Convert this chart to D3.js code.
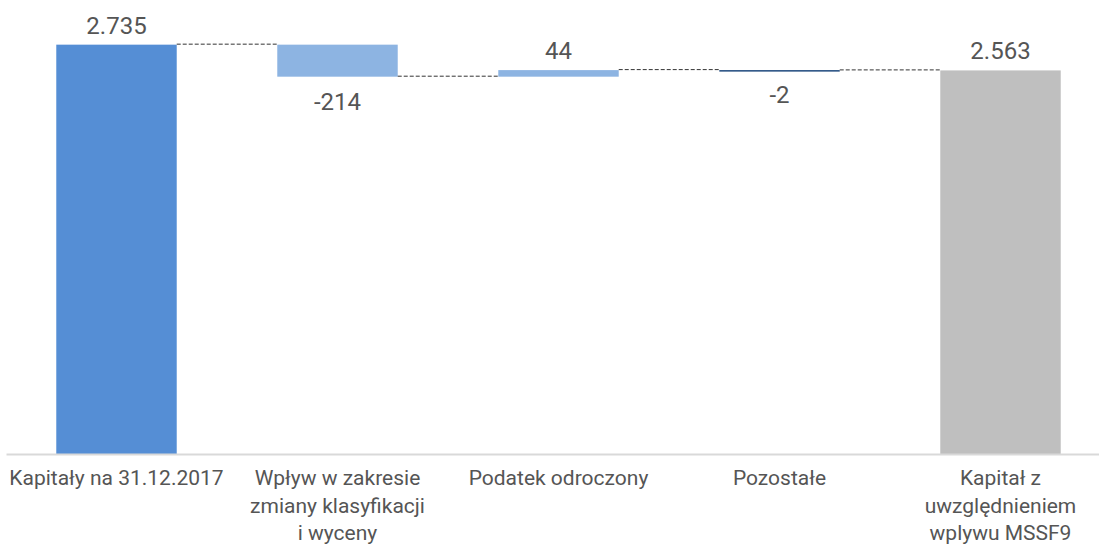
<!DOCTYPE html>
<html>
<head>
<meta charset="utf-8">
<script src="https://cdn.jsdelivr.net/npm/d3@7"></script>
<style>
    html, body { margin: 0; padding: 0; background: #fff; }
    .chart { width: 1099px; height: 546px; }
    text { font-family: Roboto, "Noto Sans", sans-serif; fill: #555; }
</style>
</head>
<body>
<div class="chart"></div>
<script>
(function() {
    'use strict';

    // DATA *************************************************************
    var categories = ['Kapitały na 31.12.2017', 'Wpływ w zakresie zmiany klasyfikacji i wyceny',
                      'Podatek odroczony', 'Pozostałe', 'Kapitał z uwzględnieniem wplywu MSSF9'];
    // tick labels, broken into lines as in the picture
    var tickLines = [
        ['Kapitały na 31.12.2017'],
        ['Wpływ w zakresie', 'zmiany klasyfikacji', 'i wyceny'],
        ['Podatek odroczony'],
        ['Pozostałe'],
        ['Kapitał z', 'uwzględnieniem', 'wplywu MSSF9']
    ];
    var values = [2735, -214, 44, -2, 2563];
    var isTotal = [true, false, false, false, true];
    var valueLabels = ['2.735', '-214', '44', '-2', '2.563'];
    var colors = ['#558ed5', '#8db4e2', '#8db4e2', '#1f497d', '#bfbfbf'];

    // SIZE *************************************************************
    var width = 1099, height = 546;
    var svg = d3.select('.chart').append('svg')
                .attr('width', width)
                .attr('height', height);

    // build waterfall steps from the values
    var running = 0;
    var steps = values.map(function(v, i) {
        var start, end;
        if (isTotal[i]) { start = 0; end = v; running = v; }
        else { start = running; end = running + v; running = end; }
        return { cat: categories[i], value: v, start: start, end: end, i: i };
    });

    // SCALES
    var xScale = d3.scaleBand()
                    .domain(categories)
                    .range([6, 1111])
                    .paddingInner(0.455)
                    .paddingOuter(0.2275);

    var yScale = d3.scaleLinear()
                    .domain([0, 3000])
                    .range([454, 5]);

    // BARS
    svg.append('g').selectAll('rect')
        .data(steps)
        .enter()
        .append('rect')
        .attr('x', function(d) { return xScale(d.cat); })
        .attr('width', xScale.bandwidth())
        .attr('y', function(d) { return yScale(Math.max(d.start, d.end)); })
        .attr('height', function(d) {
            return Math.max(1.5, Math.abs(yScale(d.start) - yScale(d.end)));
        })
        .attr('fill', function(d, i) { return colors[i]; });

    // CONNECTORS (dashed, between bars at the running level)
    svg.append('g').selectAll('line')
        .data(steps.slice(0, -1))
        .enter()
        .append('line')
        .attr('x1', function(d) { return xScale(d.cat) + xScale.bandwidth(); })
        .attr('x2', function(d) { return xScale(categories[d.i + 1]); })
        .attr('y1', function(d) { return yScale(d.end) - 0.5; })
        .attr('y2', function(d) { return yScale(d.end) - 0.5; })
        .attr('stroke', '#333')
        .attr('stroke-width', 1)
        .attr('stroke-dasharray', '4,2');

    // AXIS LINE
    var xAxis = d3.axisBottom(xScale).tickSize(0).tickFormat('');
    var xAxisG = svg.append('g')
                    .attr('transform', 'translate(0,' + yScale(0) + ')')
                    .call(xAxis);
    xAxisG.select('.domain')
        .attr('stroke', '#d9d9d9')
        .attr('stroke-width', 2);

    // TICK LABELS
    var ticks = svg.append('g').selectAll('text')
        .data(categories)
        .enter()
        .append('text')
        .attr('text-anchor', 'middle')
        .attr('font-size', 21)
        .attr('x', function(d) { return xScale(d) + xScale.bandwidth() / 2; })
        .attr('y', 485);
    ticks.selectAll('tspan')
        .data(function(d, i) { return tickLines[i]; })
        .enter()
        .append('tspan')
        .attr('x', function() { return d3.select(this.parentNode).attr('x'); })
        .attr('dy', function(d, i) { return i === 0 ? 0 : 27.5; })
        .text(function(d) { return d; });

    // VALUE LABELS
    svg.append('g').selectAll('text')
        .data(steps)
        .enter()
        .append('text')
        .attr('text-anchor', 'middle')
        .attr('font-size', 24)
        .attr('x', function(d) { return xScale(d.cat) + xScale.bandwidth() / 2; })
        .attr('y', function(d) {
            return d.value >= 0 ? yScale(Math.max(d.start, d.end)) - 11
                                : yScale(Math.min(d.start, d.end)) + 33;
        })
        .text(function(d, i) { return valueLabels[i]; });

}());
</script>
</body>
</html>
